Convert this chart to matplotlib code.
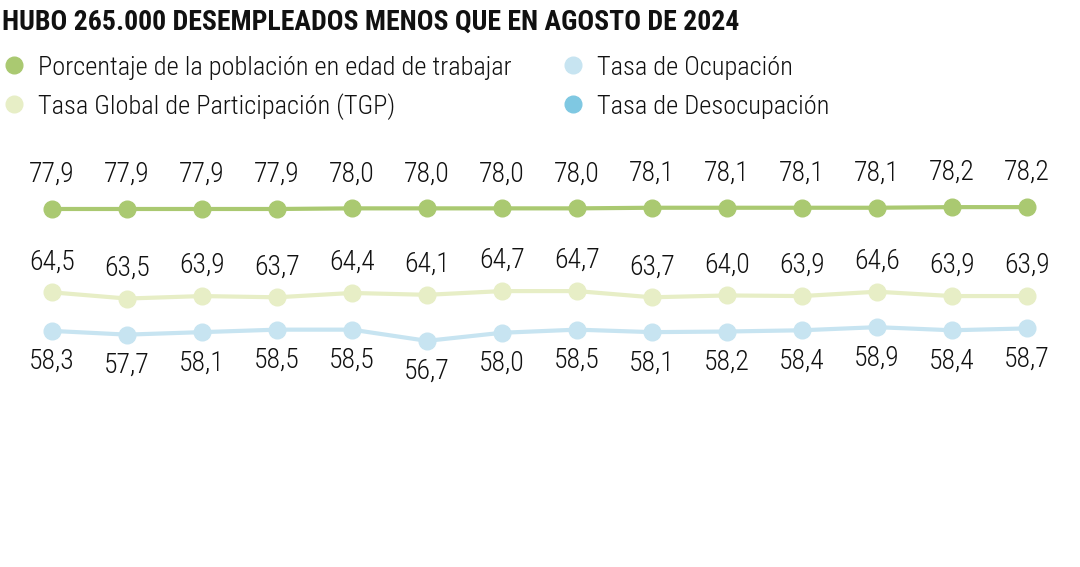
import matplotlib.pyplot as plt
from matplotlib.lines import Line2D

# data
pet = [77.9, 77.9, 77.9, 77.9, 78.0, 78.0, 78.0, 78.0, 78.1, 78.1, 78.1, 78.1, 78.2, 78.2]
tgp = [64.5, 63.5, 63.9, 63.7, 64.4, 64.1, 64.7, 64.7, 63.7, 64.0, 63.9, 64.6, 63.9, 63.9]
ocup = [58.3, 57.7, 58.1, 58.5, 58.5, 56.7, 58.0, 58.5, 58.1, 58.2, 58.4, 58.9, 58.4, 58.7]

title = "HUBO 265.000 DESEMPLEADOS MENOS QUE EN AGOSTO DE 2024"
legend_labels = ["Porcentaje de la población en edad de trabajar",
                 "Tasa Global de Participación (TGP)",
                 "Tasa de Ocupación",
                 "Tasa de Desocupación"]

c_pet = "#aac971"
c_tgp = "#e7eec6"
c_ocup = "#c7e4f1"
c_deso = "#7fc8e2"

plt.rcParams['font.family'] = ["Roboto Condensed", "DejaVu Sans"]
plt.rcParams['font.stretch'] = "condensed"

fig = plt.figure(figsize=(10.8, 5.67), dpi=100)
ax = fig.add_axes([0, 0, 1, 1])
ax.set_xlim(-0.693, 13.707)
ax.set_ylim(20.34, 111.5)
ax.axis("off")

x = list(range(len(pet)))

series = [(pet, c_pet, 19.5),
          (tgp, c_tgp, 16.5),
          (ocup, c_ocup, -27.5)]

for vals, col, off in series:
    ax.plot(x, vals, color=col, lw=3.0, marker="o", ms=12, solid_capstyle="round")
    for xi, v in zip(x, vals):
        ax.annotate(f"{v:.1f}".replace(".", ","), (xi, v), xytext=(0, off),
                    textcoords="offset points", ha="center", va="baseline",
                    fontsize=20, fontweight="light", color="#111111")

# title
fig.text(2 / 1080, 1 - 30 / 567, title, fontsize=20, fontweight="bold",
         color="#111111", ha="left", va="baseline")

# legend
leg_pos = [(14, 65, c_pet), (14, 104, c_tgp), (573, 65, c_ocup), (573, 104, c_deso)]
for (px, py, col), lab in zip(leg_pos, legend_labels):
    fig.add_artist(Line2D([px / 1080], [1 - py / 567], marker="o", ms=12,
                          color=col, transform=fig.transFigure))
    fig.text((px + 24) / 1080, 1 - (py + 10) / 567, lab, fontsize=19,
             fontweight="light", color="#111111", ha="left", va="baseline")

fig.savefig("out.png", dpi=100)
